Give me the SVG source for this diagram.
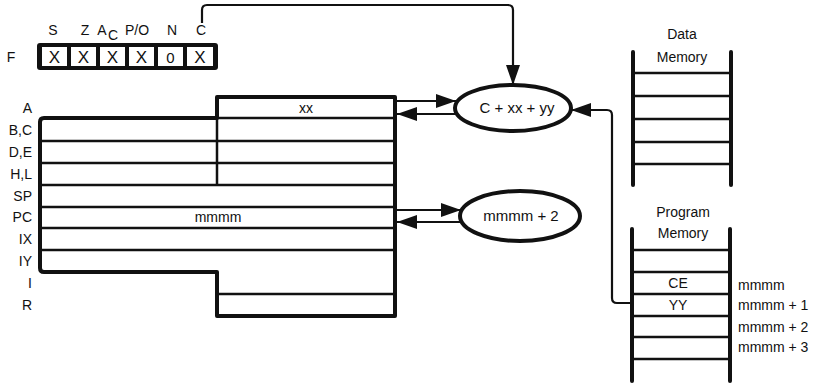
<svg xmlns="http://www.w3.org/2000/svg" width="829" height="384" viewBox="0 0 829 384">
<style>
text{font-family:"Liberation Sans",Arial,sans-serif;fill:#111;}
.lbl{font-size:14px;text-anchor:end;}
.ctr{text-anchor:middle;}
.cell{fill:#fff;stroke:none;}
.thick{fill:none;stroke:#111;stroke-width:4;stroke-linejoin:round;}
.thin{stroke:#111;stroke-width:2.5;fill:none;}
.conn{stroke:#111;stroke-width:2.2;fill:none;}
.rail{stroke:#111;stroke-width:4;stroke-linecap:round;}
.rung{stroke:#111;stroke-width:2.5;}
.ell{fill:#fff;stroke:#111;stroke-width:4;}
</style>
<defs>
<marker id="ah" viewBox="0 0 20 14" refX="20" refY="7" markerWidth="20" markerHeight="14" orient="auto" markerUnits="userSpaceOnUse"><path d="M0,0 L20,7 L0,14 z" fill="#111"/></marker>
</defs>
<rect width="829" height="384" fill="#fff"/>

<g id="flags">
<text x="53" y="35" class="ctr" font-size="14">S</text>
<text x="85" y="35" class="ctr" font-size="14">Z</text>
<text x="102" y="35" class="ctr" font-size="14">A</text>
<text x="113" y="40" class="ctr" font-size="14">C</text>
<text x="137" y="35" class="ctr" font-size="14">P/O</text>
<text x="172" y="35" class="ctr" font-size="14">N</text>
<text x="201" y="35" class="ctr" font-size="14">C</text>
<text x="11" y="62" class="ctr" font-size="14">F</text>
<rect x="37" y="43" width="181" height="27" rx="3" fill="#111"/>
<rect class="cell" x="42" y="47" width="25" height="19"/>
<rect class="cell" x="71" y="47" width="25" height="19"/>
<rect class="cell" x="100" y="47" width="25" height="19"/>
<rect class="cell" x="129" y="47" width="25" height="19"/>
<rect class="cell" x="158" y="47" width="25" height="19"/>
<rect class="cell" x="187" y="47" width="26" height="19"/>
<text x="54.5" y="63" class="ctr" font-size="17">X</text>
<text x="83.5" y="63" class="ctr" font-size="17">X</text>
<text x="112.5" y="63" class="ctr" font-size="17">X</text>
<text x="141.5" y="63" class="ctr" font-size="17">X</text>
<text x="170.5" y="63" class="ctr" font-size="15">0</text>
<text x="200" y="63" class="ctr" font-size="17">X</text>
</g>

<g id="registers">
<path class="thin" d="M217,141 H395 M40,141 H217 M40,163 H395 M40,185 H395 M40,207 H395 M40,228 H395 M40,250 H395 M217,294 H395 M217,118 V185 M217,118 H395"/>
<path class="thick" d="M217,97 H395 V316 H217 V272 H44 Q40,272 40,268 V122 Q40,118 44,118 H217 Z"/>
<text x="32" y="113" class="lbl">A</text>
<text x="32" y="135" class="lbl">B,C</text>
<text x="32" y="157" class="lbl">D,E</text>
<text x="32" y="179" class="lbl">H,L</text>
<text x="32" y="201" class="lbl">SP</text>
<text x="32" y="222" class="lbl">PC</text>
<text x="32" y="244" class="lbl">IX</text>
<text x="32" y="266" class="lbl">IY</text>
<text x="32" y="288" class="lbl">I</text>
<text x="32" y="310" class="lbl">R</text>
<text x="306" y="113" class="ctr" font-size="14">xx</text>
<text x="218" y="222" class="ctr" font-size="14">mmmm</text>
</g>

<g id="alu1">
<ellipse class="ell" cx="513" cy="108" rx="58" ry="23"/>
<text x="517" y="113" class="ctr" font-size="15">C + xx + yy</text>
</g>

<g id="alu2">
<ellipse class="ell" cx="520" cy="216" rx="60" ry="25"/>
<text x="521" y="221" class="ctr" font-size="15">mmmm + 2</text>
</g>

<g id="datamem">
<text x="682" y="39" class="ctr" font-size="14">Data</text>
<text x="682" y="62" class="ctr" font-size="14">Memory</text>
<line class="rail" x1="633" y1="52" x2="633" y2="185"/>
<line class="rail" x1="731" y1="52" x2="731" y2="185"/>
<path class="rung" d="M633,73 H731 M633,96 H731 M633,119 H731 M633,142 H731 M633,164 H731"/>
</g>

<g id="progmem">
<text x="683" y="217" class="ctr" font-size="14">Program</text>
<text x="683" y="238" class="ctr" font-size="14">Memory</text>
<line class="rail" x1="632" y1="229" x2="632" y2="381"/>
<line class="rail" x1="730" y1="229" x2="730" y2="381"/>
<path class="rung" d="M632,250 H730 M632,272 H730 M632,294 H730 M632,316 H730 M632,337 H730 M632,359 H730"/>
<text x="678" y="288" class="ctr" font-size="14">CE</text>
<text x="678" y="310" class="ctr" font-size="14">YY</text>
<text x="738" y="290" font-size="14">mmmm</text>
<text x="738" y="310" font-size="14">mmmm + 1</text>
<text x="738" y="332" font-size="14">mmmm + 2</text>
<text x="738" y="352" font-size="14">mmmm + 3</text>
</g>

<g id="connectors">
<path class="conn" d="M202,23 V10 Q202,5 207,5 H508 Q513,5 513,10 V85" marker-end="url(#ah)"/>
<path class="conn" d="M397,101 H456" marker-end="url(#ah)"/>
<path class="conn" d="M458,114 H397" marker-end="url(#ah)"/>
<path class="conn" d="M397,210 H461" marker-end="url(#ah)"/>
<path class="conn" d="M463,222 H397" marker-end="url(#ah)"/>
<path class="conn" d="M632,303 H617 Q612,303 612,298 V115 Q612,110 607,110 H571" marker-end="url(#ah)"/>
</g>
</svg>
